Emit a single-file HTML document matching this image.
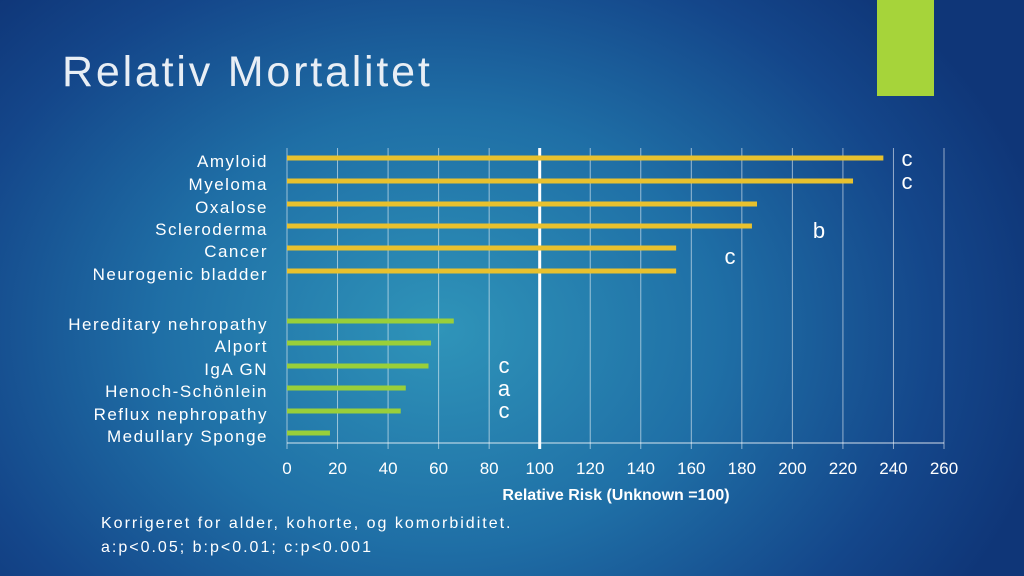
<!DOCTYPE html>
<html><head><meta charset="utf-8"><style>
html,body{margin:0;padding:0}
body{width:1024px;height:576px;overflow:hidden;position:relative;font-family:"Liberation Sans",sans-serif;
background:radial-gradient(ellipse 620px 480px at 440px 330px,#2f94b9 0%,#1f6fa6 45%,#14468a 80%,#0f3678 100%);}
svg{display:block}
svg text{font-family:"Liberation Sans",sans-serif}
</style></head><body>
<svg width="1024" height="576">
<rect x="877" y="0" width="57" height="96" fill="#a6d43a"/>
<text x="62" y="86" font-size="43" letter-spacing="2.8" fill="#e8eef5">Relativ Mortalitet</text>
<g id="grid"></g><g id="bars"></g><g id="labels"></g><g id="ticks"></g><g id="sig"></g>
<text x="616" y="500" font-size="16" font-weight="bold" fill="#fff" text-anchor="middle">Relative Risk (Unknown =100)</text>
<text x="101" y="528" font-size="16" letter-spacing="2" fill="#fff">Korrigeret for alder, kohorte, og komorbiditet.</text>
<text x="101" y="552" font-size="16" letter-spacing="2" fill="#fff">a:p&lt;0.05; b:p&lt;0.01; c:p&lt;0.001</text>
</svg>
<script>
const categories=["Amyloid","Myeloma","Oxalose","Scleroderma","Cancer","Neurogenic bladder","Hereditary nehropathy","Alport","IgA GN","Henoch-Schönlein","Reflux nephropathy","Medullary Sponge"];
const values=[236,224,186,184,154,154,66,57,56,47,45,17];
const rowY=[158,181,204,226,248,271,321,343,366,388,411,433];
const tickLabels=[0,20,40,60,80,100,120,140,160,180,200,220,240,260];
const ns="http://www.w3.org/2000/svg";
const x=v=>287+v*(657/260);
function mk(t,a,p,txt){const e=document.createElementNS(ns,t);for(const k in a)e.setAttribute(k,a[k]);if(txt!==undefined)e.textContent=txt;document.getElementById(p).appendChild(e);return e;}
tickLabels.forEach(v=>{
 const g=mk("line",{x1:x(v),x2:x(v),y1:148,y2:449,stroke:"#fff","stroke-opacity":v===100?1:0.55,"stroke-width":v===100?3:1},"grid");
 
 const t=mk("text",{x:x(v),y:474,"font-size":17,fill:"#fff","text-anchor":"middle"},"ticks",v);
 
});
const base=mk("line",{x1:287,x2:944,y1:443,y2:443,stroke:"#fff","stroke-opacity":0.55,"stroke-width":1.5},"grid");

categories.forEach((c,i)=>{
 const b=mk("rect",{x:287,y:rowY[i]-2.5,width:x(values[i])-287,height:5,fill:i<6?"#e8c12e":"#99cf3a"},"bars");
 
 const t=mk("text",{x:268,y:rowY[i]+9,"font-size":17,"letter-spacing":"1.5",fill:"#fff","text-anchor":"end"},"labels",c);
 
});
[["c",907,166],["c",907,189],["b",819,238],["c",730,264],["c",504,373],["a",504,396],["c",504,418]].forEach(([s,sx,sy])=>{
 const t=mk("text",{x:sx,y:sy,"font-size":22,fill:"#fff","text-anchor":"middle"},"sig",s);
 
});
</script>
</body></html>
